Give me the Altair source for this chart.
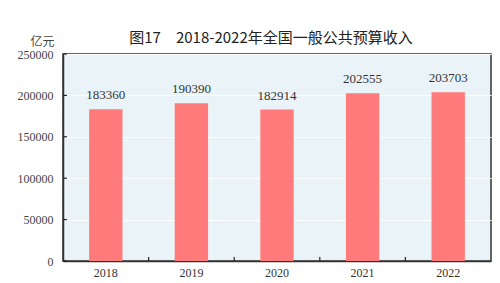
import altair as alt
import pandas as pd

years = ["2018", "2019", "2020", "2021", "2022"]
values = [183360, 190390, 182914, 202555, 203703]
y_ticks = [0, 50000, 100000, 150000, 200000, 250000]
title_text = "图17　2018-2022年全国一般公共预算收入"
unit_text = "亿元"

df = pd.DataFrame({"year": years, "value": values})
df_yt = pd.DataFrame({"value": y_ticks})
df_xt = pd.DataFrame({"year": years[1:]})

serif = "Liberation Serif"
W, H = 428, 207
P_IN = 0.61
P_OUT = P_IN / 2
x_scale = alt.Scale(domain=years, paddingInner=P_IN, paddingOuter=P_OUT)
y_scale = alt.Scale(domain=[0, 250000], nice=False)
step = W / (len(years) - P_IN + 2 * P_OUT)

base = alt.Chart(df).encode(
    x=alt.X("year:N", sort=years, scale=x_scale,
            axis=alt.Axis(title=None, labelAngle=0, labelFont=serif, labelFontSize=12,
                          labelColor="#333", ticks=False,
                          domainColor="#333", domainWidth=1.5,
                          labelPadding=6, grid=False)),
)

bars = base.mark_bar(color="#FF7B7B").encode(
    y=alt.Y("value:Q", scale=y_scale,
            axis=alt.Axis(values=y_ticks, format="d", title=unit_text, titleAngle=0,
                          titleFont="Noto Sans CJK SC", titleFontSize=12,
                          titleFontWeight="normal", titleColor="#444",
                          titleX=-21, titleY=-6, titleAlign="center",
                          labelFont=serif, labelFontSize=12, labelColor="#444",
                          ticks=False, domainColor="#333",
                          domainWidth=1.5, labelPadding=10,
                          grid=True, gridColor="#ffffff", gridWidth=1.2))
)

labels = base.mark_text(font=serif, fontSize=13, color="#333", dy=-14).encode(
    y="value:Q", text="value:Q"
)

ytick_marks = alt.Chart(df_yt).mark_rule(color="#222", strokeWidth=1.2).encode(
    y=alt.Y("value:Q", scale=y_scale),
    x=alt.value(0), x2=alt.value(4),
)

xtick_marks = alt.Chart(df_xt).mark_rule(
    color="#222", strokeWidth=1.2, xOffset=-step * P_IN / 2
).encode(
    x=alt.X("year:N", scale=x_scale, bandPosition=0),
    y=alt.value(H), y2=alt.value(H - 4),
)

chart = (bars + labels + ytick_marks + xtick_marks).properties(
    width=W, height=H,
    title=alt.TitleParams(title_text, font="Noto Sans CJK SC", fontSize=15,
                          fontWeight="normal", color="#222", offset=-11, dx=-6),
    autosize=alt.AutoSizeParams(type="none"),
    padding={"left": 63, "top": 54, "right": 9, "bottom": 22},
).configure_view(fill="#EAF4F8", stroke="#333", strokeWidth=1.5)

chart.save("out.html", embed_options={"renderer": "svg", "actions": False})
